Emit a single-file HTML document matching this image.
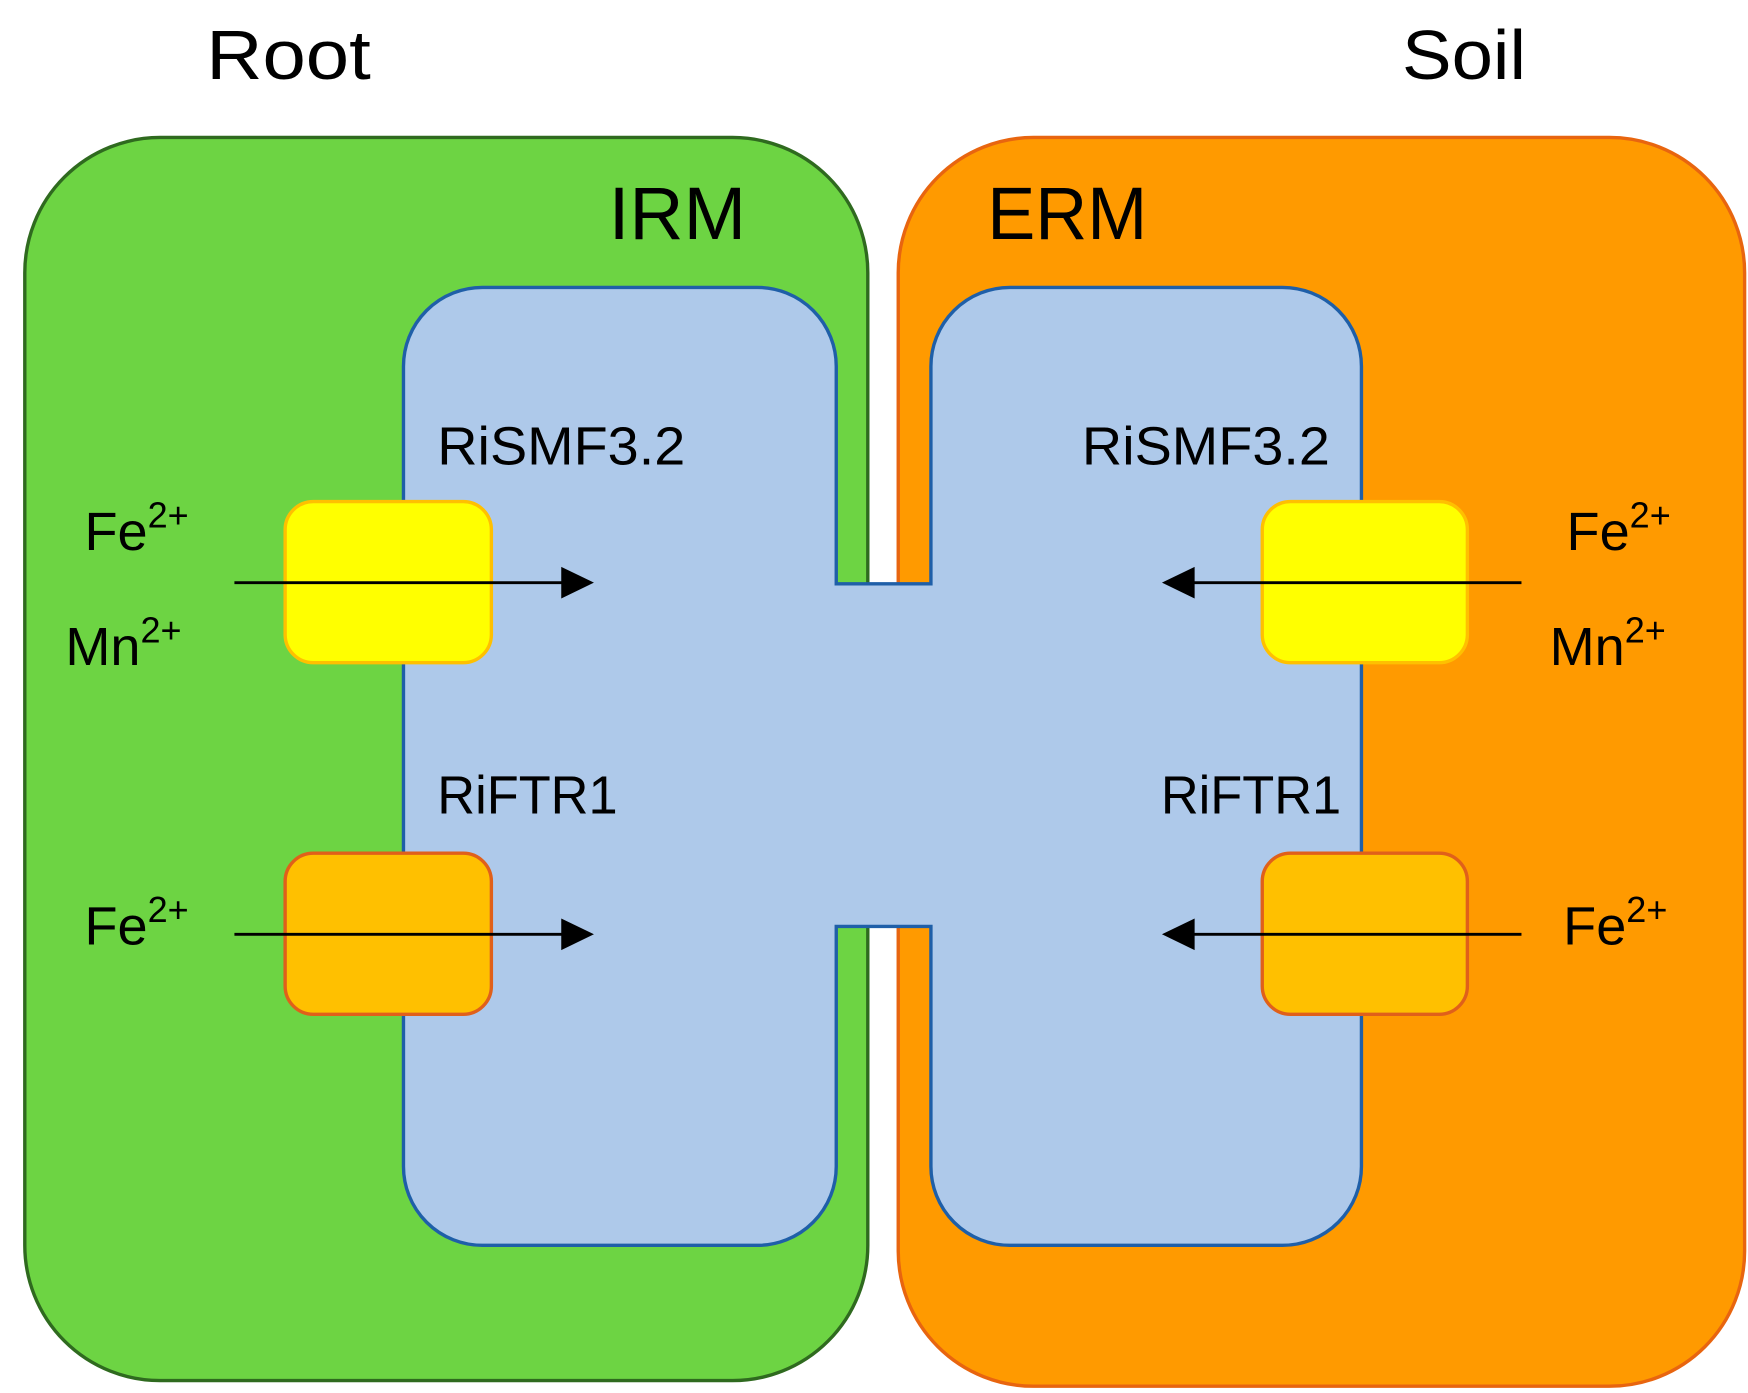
<!DOCTYPE html>
<html><head><meta charset="utf-8"><style>
html,body{margin:0;padding:0;background:#fff;}
svg{display:block;}
text{font-family:"Liberation Sans",sans-serif;fill:#000;}
</style></head><body>
<svg width="1748" height="1393" viewBox="0 0 1551 1236" preserveAspectRatio="none" xmlns="http://www.w3.org/2000/svg">
<defs>
<marker id="ah" markerWidth="10" markerHeight="10" refX="9" refY="5" orient="auto" markerUnits="userSpaceOnUse" viewBox="0 0 10 10">
</marker>
</defs>
<rect x="22" y="122" width="748" height="1103" rx="120" fill="#6dd443" stroke="#2f6a1f" stroke-width="3"/>
<rect x="797" y="122" width="751" height="1108" rx="120" fill="#ff9a00" stroke="#e8650f" stroke-width="3"/>
<path d="M428 255 H672 A70 70 0 0 1 742 325 V518 H826 V325 A70 70 0 0 1 896 255 H1138 A70 70 0 0 1 1208 325 V1035 A70 70 0 0 1 1138 1105 H896 A70 70 0 0 1 826 1035 V822 H742 V1035 A70 70 0 0 1 672 1105 H428 A70 70 0 0 1 358 1035 V325 A70 70 0 0 1 428 255 Z" fill="#aec9ea" stroke="#1f5fa8" stroke-width="3"/>
<rect x="253" y="445" width="183" height="143" rx="25" fill="#ffff00" stroke="#ffc000" stroke-width="3"/>
<rect x="1120" y="445" width="182" height="143" rx="25" fill="#ffff00" stroke="#ffc000" stroke-width="3"/>
<rect x="253" y="757" width="183" height="143" rx="25" fill="#ffc000" stroke="#e0601a" stroke-width="3"/>
<rect x="1120" y="757" width="182" height="143" rx="25" fill="#ffc000" stroke="#e0601a" stroke-width="3"/>
<g stroke="#000" stroke-width="2.5">
<line x1="208" y1="517" x2="500" y2="517"/>
<line x1="208" y1="829" x2="500" y2="829"/>
<line x1="1350" y1="517" x2="1058" y2="517"/>
<line x1="1350" y1="829" x2="1058" y2="829"/>
</g>
<g fill="#000">
<polygon points="498,503 527,517 498,531"/>
<polygon points="498,815 527,829 498,843"/>
<polygon points="1060,503 1031,517 1060,531"/>
<polygon points="1060,815 1031,829 1060,843"/>
</g>
<text x="183" y="70" font-size="62" textLength="146" lengthAdjust="spacingAndGlyphs">Root</text>
<text x="1244" y="70" font-size="62" textLength="110" lengthAdjust="spacingAndGlyphs">Soil</text>
<text x="540" y="212" font-size="66" textLength="122" lengthAdjust="spacingAndGlyphs">IRM</text>
<text x="876" y="212" font-size="66" textLength="142" lengthAdjust="spacingAndGlyphs">ERM</text>
<text x="388" y="412" font-size="48" textLength="220" lengthAdjust="spacingAndGlyphs">RiSMF3.2</text>
<text x="960" y="412" font-size="48" textLength="220" lengthAdjust="spacingAndGlyphs">RiSMF3.2</text>
<text x="388" y="722" font-size="48" textLength="160" lengthAdjust="spacingAndGlyphs">RiFTR1</text>
<text x="1030" y="722" font-size="48" textLength="160" lengthAdjust="spacingAndGlyphs">RiFTR1</text>
<g font-size="48">
<text x="75" y="488">Fe<tspan font-size="32" dy="-20">2+</tspan></text>
<text x="58" y="590">Mn<tspan font-size="32" dy="-20">2+</tspan></text>
<text x="75" y="838">Fe<tspan font-size="32" dy="-20">2+</tspan></text>
<text x="1390" y="488">Fe<tspan font-size="32" dy="-20">2+</tspan></text>
<text x="1375" y="590">Mn<tspan font-size="32" dy="-20">2+</tspan></text>
<text x="1387" y="838">Fe<tspan font-size="32" dy="-20">2+</tspan></text>
</g>
</svg>
</body></html>
